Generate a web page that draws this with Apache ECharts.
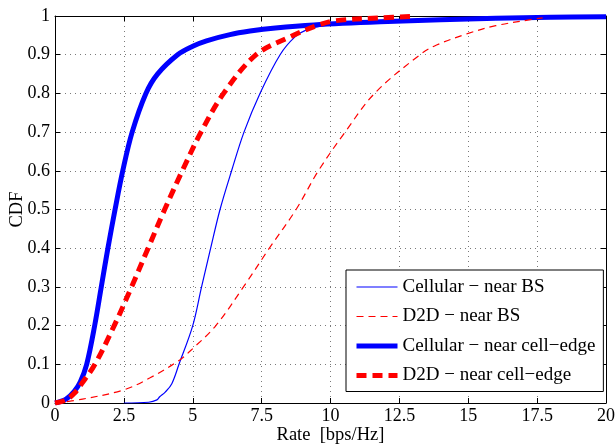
<!DOCTYPE html>
<html>
<head>
<meta charset="utf-8">
<script src="https://cdn.jsdelivr.net/npm/echarts@6/dist/echarts.min.js"></script>
<style>
html,body{margin:0;padding:0;background:#fff;}
#c{width:616px;height:444px;}
</style>
</head>
<body>
<div id="c"></div>
<script>
// ---- data ----
var seriesNames = ['Cellular \u2212 near BS', 'D2D \u2212 near BS', 'Cellular \u2212 near cell\u2212edge', 'D2D \u2212 near cell\u2212edge'];

var cellNearBS_x = [2.5, 3.4, 3.7, 3.8, 4.0, 4.24, 4.5, 5.0, 5.32, 5.65, 5.99, 6.41, 6.86, 7.44, 8.17, 8.71, 9.13, 9.73, 11, 12.5, 15, 17.5, 20];
var cellNearBS_y = [0, 0.002, 0.008, 0.016, 0.028, 0.05, 0.1, 0.2, 0.3, 0.4, 0.5, 0.6, 0.7, 0.8, 0.9, 0.946, 0.964, 0.975, 0.985, 0.99, 0.995, 0.997, 0.998];

var d2dNearBS_x = [0, 1, 2.5, 3.45, 4.54, 5.02, 5.84, 6.84, 7.78, 8.75, 9.56, 10.53, 11.6, 13.25, 13.85, 15, 16, 17.2, 17.7];
var d2dNearBS_y = [0, 0.01, 0.034, 0.065, 0.112, 0.142, 0.2, 0.3, 0.4, 0.5, 0.6, 0.7, 0.8, 0.9, 0.925, 0.955, 0.975, 0.99, 0.995];

var cellEdge_x = [0, 0.4, 0.7, 0.92, 1.15, 1.44, 1.68, 1.92, 2.18, 2.46, 2.8, 3.3, 3.72, 4.45, 5.0, 5.5, 6.35, 7.08, 8.0, 9.4, 11.8, 14, 16, 18, 20];
var cellEdge_y = [0, 0.01, 0.03, 0.055, 0.1, 0.2, 0.3, 0.4, 0.5, 0.6, 0.7, 0.8, 0.85, 0.9, 0.922, 0.936, 0.952, 0.961, 0.969, 0.977, 0.985, 0.99, 0.994, 0.997, 0.998];

var d2dEdge_x = [0, 0.4, 0.7, 0.97, 1.45, 2.15, 2.78, 3.38, 3.98, 4.62, 5.3, 6.12, 7.3, 8.53, 9.5, 10.2, 11.8, 13];
var d2dEdge_y = [0, 0.008, 0.025, 0.05, 0.1, 0.2, 0.3, 0.4, 0.5, 0.6, 0.7, 0.8, 0.9, 0.946, 0.975, 0.988, 0.995, 0.999];

var xTickLabels = ['0', '2.5', '5', '7.5', '10', '12.5', '15', '17.5', '20'];
var yTickLabels = ['0', '0.1', '0.2', '0.3', '0.4', '0.5', '0.6', '0.7', '0.8', '0.9', '1'];

function pairs(xs, ys) { return xs.map(function (x, i) { return [x, ys[i]]; }); }

var FONT = 'Liberation Serif';
var xFmt = function (v) { var i = Math.round(v / 2.5); return xTickLabels[i] !== undefined ? xTickLabels[i] : ''; };
var yFmt = function (v) { var i = Math.round(v * 10); return yTickLabels[i] !== undefined ? yTickLabels[i] : ''; };

var gridLine = { show: true, lineStyle: { color: '#7a7a7a', type: [1, 4], width: 1 } };
var axLine = { show: true, onZero: false, lineStyle: { color: '#000', width: 1 } };
var tick = { show: true, inside: true, length: 5, lineStyle: { color: '#000', width: 1 } };

var chart = echarts.init(document.getElementById('c'), null, { renderer: 'canvas' });
chart.setOption({
  animation: false,
  backgroundColor: '#fff',
  grid: { left: 55, top: 16, right: 10, bottom: 41, containLabel: false, outerBoundsMode: 'none' },
  xAxis: [
    { type: 'value', min: 0, max: 20, interval: 2.5, position: 'bottom',
      axisLine: axLine, axisTick: tick, splitLine: gridLine,
      axisLabel: { formatter: xFmt, fontFamily: FONT, fontSize: 18, color: '#000', margin: 4 },
      name: 'Rate  [bps/Hz]', nameLocation: 'middle', nameGap: 23, nameMoveOverlap: false,
      nameTextStyle: { fontFamily: FONT, fontSize: 18.5, color: '#000' } },
    { type: 'value', min: 0, max: 20, interval: 2.5, position: 'top',
      axisLine: axLine, axisTick: tick, splitLine: { show: false }, axisLabel: { show: false } }
  ],
  yAxis: [
    { type: 'value', min: 0, max: 1, interval: 0.1, position: 'left',
      axisLine: axLine, axisTick: tick, splitLine: gridLine,
      axisLabel: { formatter: yFmt, fontFamily: FONT, fontSize: 18, color: '#000', margin: 5 },
      name: 'CDF', nameLocation: 'middle', nameGap: 28, nameMoveOverlap: false,
      nameTextStyle: { fontFamily: FONT, fontSize: 18.5, color: '#000' } },
    { type: 'value', min: 0, max: 1, interval: 0.1, position: 'right',
      axisLine: axLine, axisTick: tick, splitLine: { show: false }, axisLabel: { show: false } }
  ],
  legend: {
    orient: 'vertical', left: 346, top: 270,
    data: seriesNames,
    backgroundColor: '#fff', borderColor: '#000', borderWidth: 1,
    padding: [7, 8, 6, 8],
    itemWidth: 41, itemHeight: 14, itemGap: 9.5,
    itemStyle: { opacity: 0 },
    lineStyle: { width: 'inherit', type: 'inherit' },
    textStyle: { fontFamily: FONT, fontSize: 19, color: '#000', lineHeight: 20 }
  },
  series: [
    { name: seriesNames[0], type: 'line', data: pairs(cellNearBS_x, cellNearBS_y),
      showSymbol: false, symbol: 'none', smooth: 0.35, z: 3,
      lineStyle: { color: '#0000ff', width: 1.2, type: 'solid' }, itemStyle: { color: '#0000ff' } },
    { name: seriesNames[1], type: 'line', data: pairs(d2dNearBS_x, d2dNearBS_y),
      showSymbol: false, symbol: 'none', smooth: 0.35, z: 3,
      lineStyle: { color: '#ff0000', width: 1.2, type: [7, 5] }, itemStyle: { color: '#ff0000' } },
    { name: seriesNames[2], type: 'line', data: pairs(cellEdge_x, cellEdge_y),
      showSymbol: false, symbol: 'none', smooth: 0.35, z: 2,
      lineStyle: { color: '#0000ff', width: 5, type: 'solid' }, itemStyle: { color: '#0000ff' } },
    { name: seriesNames[3], type: 'line', data: pairs(d2dEdge_x, d2dEdge_y),
      showSymbol: false, symbol: 'none', smooth: 0.35, z: 4,
      lineStyle: { color: '#ff0000', width: 5, type: [10, 6] }, itemStyle: { color: '#ff0000' } }
  ]
});
</script>
</body>
</html>
